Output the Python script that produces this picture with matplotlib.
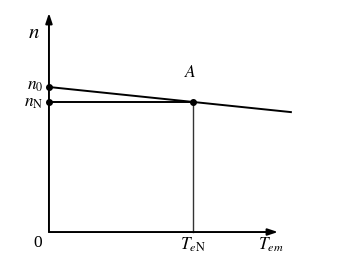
import matplotlib
matplotlib.use("Agg")
import matplotlib.pyplot as plt

plt.rcParams['mathtext.fontset'] = 'stix'
plt.rcParams['font.family'] = ['Liberation Serif', 'DejaVu Serif']

# data (per-unit)
n0 = 1.0          # no-load speed
nN = 0.897        # rated speed
TN = 1.0          # rated torque
T_end = 1.68      # end of characteristic line
x_axis_max = 1.59
y_axis_max = 1.51

fig = plt.figure(figsize=(3.39, 2.69), dpi=100)
ax = fig.add_axes([0, 0, 1, 1])
ax.set_xlim(-0.340, 2.014)
ax.set_ylim(-0.255, 1.60)
ax.axis('off')

# axes with arrows
ax.annotate('', xy=(x_axis_max, 0), xytext=(0, 0),
            arrowprops=dict(arrowstyle='-|>,head_length=0.6,head_width=0.2', lw=1.4, color='black',
                            shrinkA=0, shrinkB=0))
ax.annotate('', xy=(0, y_axis_max), xytext=(0, 0),
            arrowprops=dict(arrowstyle='-|>,head_length=0.6,head_width=0.2', lw=1.4, color='black',
                            shrinkA=0, shrinkB=0))

# mechanical characteristic
slope = (nN - n0) / TN
ax.plot([0, T_end], [n0, n0 + slope * T_end], color='black', lw=1.4)
# rated speed line
ax.plot([0, TN], [nN, nN], color='black', lw=1.4)
# rated torque vertical
ax.plot([TN, TN], [0, nN], color='#333333', lw=1.0)
# points
ax.plot([0, 0, TN], [n0, nN, nN], 'o', color='black', ms=4)

fs = 12.5
ax.text(-0.06, 1.37, r'$n$', fontsize=15, ha='right', va='center')
ax.text(-0.04, n0 + 0.01, r'$n_0$', fontsize=fs, ha='right', va='center')
ax.text(-0.04, nN - 0.01, r'$n_{\mathrm{N}}$', fontsize=fs, ha='right', va='center')
ax.text(TN - 0.02, n0 + 0.10, r'$A$', fontsize=fs, ha='center', va='center')
ax.text(-0.075, -0.075, '0', fontsize=fs, ha='center', va='center')
ax.text(TN, -0.09, r'$T_{e\mathrm{N}}$', fontsize=fs, ha='center', va='center')
ax.text(1.54, -0.09, r'$T_{em}$', fontsize=fs, ha='center', va='center')

fig.savefig('out.png', dpi=100)
